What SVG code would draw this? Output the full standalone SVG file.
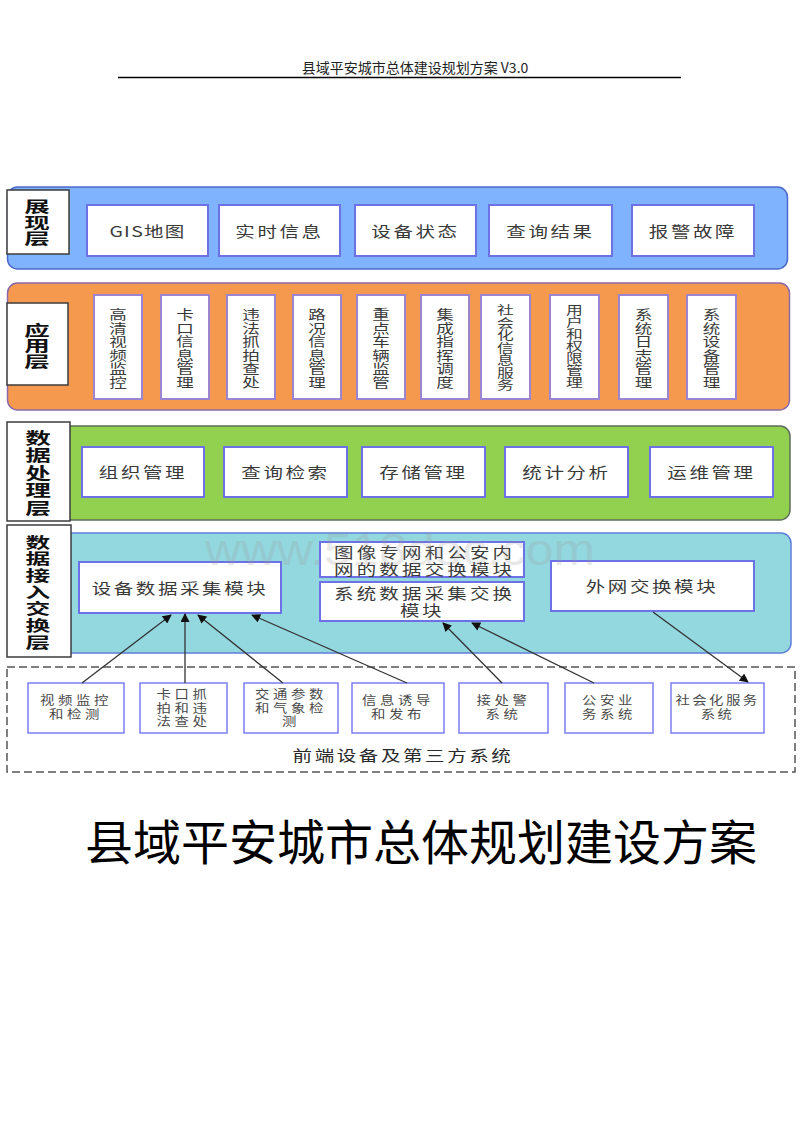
<svg xmlns="http://www.w3.org/2000/svg" width="800" height="1132" viewBox="0 0 800 1132">
<defs>
<style>
text{font-family:"Noto Sans CJK SC","Liberation Sans",sans-serif;}
.hdr{font-size:14px;fill:#222;}
.lbl{font-size:15px;font-weight:bold;fill:#111;}
.it{font-size:15px;fill:#3a3a3a;}
.vt{font-size:13px;fill:#3a3a3a;}
.vt7{font-size:12px;fill:#3a3a3a;}
.sm{font-size:12px;fill:#4a4a4a;}
.lbox{fill:#fff;stroke:#3c3c3c;stroke-width:1.5;}
.box{fill:#fff;stroke:#6e70e6;stroke-width:2;}
.vbox{fill:#fff;stroke:#9b84d2;stroke-width:2;}
.fbox{fill:#fff;stroke:#7c7ff0;stroke-width:1.5;}
.conn{stroke:#333;stroke-width:1.3;fill:none;}
</style>
<marker id="ah" viewBox="0 0 10 10" refX="9" refY="5" markerWidth="10" markerHeight="9" markerUnits="userSpaceOnUse" orient="auto">
<path d="M0,0 L10,5 L0,10 z" fill="#111"/>
</marker>
</defs>
<rect width="800" height="1132" fill="#fff"/>

<g id="header">
<text class="hdr" x="415" y="73" text-anchor="middle">县域平安城市总体建设规划方案 V3.0</text>
<line x1="118" y1="77.5" x2="681" y2="77.5" stroke="#000" stroke-width="1.3"/>
</g>

<!-- Layer 1 -->
<g id="layer-display">
<rect x="7.5" y="187" width="780" height="82" rx="10" fill="#7fb3fe" stroke="#4d68cc" stroke-width="1.5"/>
<rect class="lbox" x="7" y="190" width="62" height="64"/>
<text class="lbl" transform="translate(37,222) scale(1.7,1)" text-anchor="middle" dominant-baseline="central"><tspan x="0" y="-16">展</tspan><tspan x="0" y="0">现</tspan><tspan x="0" y="16">层</tspan></text>
</g>
<g id="n-gis"><rect class="box" x="87" y="205" width="121" height="51"/><text class="it" transform="translate(147.5,231) scale(1.3,1)" text-anchor="middle" dominant-baseline="central" letter-spacing="1">GIS地图</text></g>
<g id="n-realtime"><rect class="box" x="219" y="205" width="121" height="51"/><text class="it" transform="translate(279.5,231) scale(1.3,1)" text-anchor="middle" dominant-baseline="central" letter-spacing="2">实时信息</text></g>
<g id="n-devstate"><rect class="box" x="355" y="205" width="121" height="51"/><text class="it" transform="translate(415.5,231) scale(1.3,1)" text-anchor="middle" dominant-baseline="central" letter-spacing="2">设备状态</text></g>
<g id="n-query"><rect class="box" x="489" y="205" width="123" height="51"/><text class="it" transform="translate(550.5,231) scale(1.3,1)" text-anchor="middle" dominant-baseline="central" letter-spacing="2">查询结果</text></g>
<g id="n-alarm"><rect class="box" x="632" y="205" width="122" height="51"/><text class="it" transform="translate(693,231) scale(1.3,1)" text-anchor="middle" dominant-baseline="central" letter-spacing="2">报警故障</text></g>

<!-- Layer 2 -->
<g id="layer-app">
<rect x="7.5" y="283" width="782" height="127" rx="10" fill="#f5994f" stroke="#8a6aa8" stroke-width="1.5"/>
<rect class="lbox" x="7" y="303" width="61" height="82"/>
<text class="lbl" transform="translate(37,345) scale(1.7,1)" text-anchor="middle" dominant-baseline="central"><tspan x="0" y="-15.5">应</tspan><tspan x="0" y="0">用</tspan><tspan x="0" y="15.5">层</tspan></text>
</g>
<g id="n-hd"><rect class="vbox" x="94" y="295" width="48" height="104"/><text class="vt" transform="translate(118,347) scale(1.35,1)" text-anchor="middle" dominant-baseline="central"><tspan x="0" y="-33.75">高</tspan><tspan x="0" y="-20.25">清</tspan><tspan x="0" y="-6.75">视</tspan><tspan x="0" y="6.75">频</tspan><tspan x="0" y="20.25">监</tspan><tspan x="0" y="33.75">控</tspan></text></g>
<g id="n-kakou"><rect class="vbox" x="161" y="295" width="48" height="104"/><text class="vt" transform="translate(185,347) scale(1.35,1)" text-anchor="middle" dominant-baseline="central"><tspan x="0" y="-33.75">卡</tspan><tspan x="0" y="-20.25">口</tspan><tspan x="0" y="-6.75">信</tspan><tspan x="0" y="6.75">息</tspan><tspan x="0" y="20.25">管</tspan><tspan x="0" y="33.75">理</tspan></text></g>
<g id="n-violation"><rect class="vbox" x="227" y="295" width="48" height="104"/><text class="vt" transform="translate(251,347) scale(1.35,1)" text-anchor="middle" dominant-baseline="central"><tspan x="0" y="-33.75">违</tspan><tspan x="0" y="-20.25">法</tspan><tspan x="0" y="-6.75">抓</tspan><tspan x="0" y="6.75">拍</tspan><tspan x="0" y="20.25">查</tspan><tspan x="0" y="33.75">处</tspan></text></g>
<g id="n-road"><rect class="vbox" x="293" y="295" width="48" height="104"/><text class="vt" transform="translate(317,347) scale(1.35,1)" text-anchor="middle" dominant-baseline="central"><tspan x="0" y="-33.75">路</tspan><tspan x="0" y="-20.25">况</tspan><tspan x="0" y="-6.75">信</tspan><tspan x="0" y="6.75">息</tspan><tspan x="0" y="20.25">管</tspan><tspan x="0" y="33.75">理</tspan></text></g>
<g id="n-vehicle"><rect class="vbox" x="357" y="295" width="48" height="104"/><text class="vt" transform="translate(381,347) scale(1.35,1)" text-anchor="middle" dominant-baseline="central"><tspan x="0" y="-33.75">重</tspan><tspan x="0" y="-20.25">点</tspan><tspan x="0" y="-6.75">车</tspan><tspan x="0" y="6.75">辆</tspan><tspan x="0" y="20.25">监</tspan><tspan x="0" y="33.75">管</tspan></text></g>
<g id="n-command"><rect class="vbox" x="421" y="295" width="48" height="104"/><text class="vt" transform="translate(445,347) scale(1.35,1)" text-anchor="middle" dominant-baseline="central"><tspan x="0" y="-33.75">集</tspan><tspan x="0" y="-20.25">成</tspan><tspan x="0" y="-6.75">指</tspan><tspan x="0" y="6.75">挥</tspan><tspan x="0" y="20.25">调</tspan><tspan x="0" y="33.75">度</tspan></text></g>
<g id="n-social"><rect class="vbox" x="481" y="295" width="49" height="104"/><text class="vt7" transform="translate(505.5,347) scale(1.4,1)" text-anchor="middle" dominant-baseline="central"><tspan x="0" y="-37.5">社</tspan><tspan x="0" y="-25">会</tspan><tspan x="0" y="-12.5">化</tspan><tspan x="0" y="0">信</tspan><tspan x="0" y="12.5">息</tspan><tspan x="0" y="25">服</tspan><tspan x="0" y="37.5">务</tspan></text></g>
<g id="n-user"><rect class="vbox" x="550" y="295" width="49" height="104"/><text class="vt7" transform="translate(574.5,345) scale(1.4,1)" text-anchor="middle" dominant-baseline="central"><tspan x="0" y="-36">用</tspan><tspan x="0" y="-24">户</tspan><tspan x="0" y="-12">和</tspan><tspan x="0" y="0">权</tspan><tspan x="0" y="12">限</tspan><tspan x="0" y="24">管</tspan><tspan x="0" y="36">理</tspan></text></g>
<g id="n-log"><rect class="vbox" x="619" y="295" width="49" height="104"/><text class="vt" transform="translate(643.5,347) scale(1.35,1)" text-anchor="middle" dominant-baseline="central"><tspan x="0" y="-33.75">系</tspan><tspan x="0" y="-20.25">统</tspan><tspan x="0" y="-6.75">日</tspan><tspan x="0" y="6.75">志</tspan><tspan x="0" y="20.25">管</tspan><tspan x="0" y="33.75">理</tspan></text></g>
<g id="n-sysdev"><rect class="vbox" x="687" y="295" width="49" height="104"/><text class="vt" transform="translate(711.5,347) scale(1.35,1)" text-anchor="middle" dominant-baseline="central"><tspan x="0" y="-33.75">系</tspan><tspan x="0" y="-20.25">统</tspan><tspan x="0" y="-6.75">设</tspan><tspan x="0" y="6.75">备</tspan><tspan x="0" y="20.25">管</tspan><tspan x="0" y="33.75">理</tspan></text></g>

<!-- Layer 3 -->
<g id="layer-process">
<rect x="8" y="426" width="782" height="94" rx="10" fill="#92d050" stroke="#5e6e58" stroke-width="1.5"/>
<rect class="lbox" x="7" y="422" width="63" height="99"/>
<text class="lbl" transform="translate(38,471.5) scale(1.6,1)" text-anchor="middle" dominant-baseline="central" style="font-size:16px"><tspan x="0" y="-35">数</tspan><tspan x="0" y="-17.5">据</tspan><tspan x="0" y="0">处</tspan><tspan x="0" y="17.5">理</tspan><tspan x="0" y="35">层</tspan></text>
</g>
<g id="n-org"><rect class="box" x="82" y="447" width="122" height="50"/><text class="it" transform="translate(143,472) scale(1.3,1)" text-anchor="middle" dominant-baseline="central" letter-spacing="2">组织管理</text></g>
<g id="n-search"><rect class="box" x="224" y="447" width="123" height="50"/><text class="it" transform="translate(285.5,472) scale(1.3,1)" text-anchor="middle" dominant-baseline="central" letter-spacing="2">查询检索</text></g>
<g id="n-storage"><rect class="box" x="362" y="447" width="123" height="50"/><text class="it" transform="translate(423.5,472) scale(1.3,1)" text-anchor="middle" dominant-baseline="central" letter-spacing="2">存储管理</text></g>
<g id="n-stats"><rect class="box" x="505" y="447" width="123" height="50"/><text class="it" transform="translate(566.5,472) scale(1.3,1)" text-anchor="middle" dominant-baseline="central" letter-spacing="2">统计分析</text></g>
<g id="n-ops"><rect class="box" x="650" y="447" width="123" height="50"/><text class="it" transform="translate(711.5,472) scale(1.3,1)" text-anchor="middle" dominant-baseline="central" letter-spacing="2">运维管理</text></g>

<!-- Layer 4 -->
<g id="layer-access">
<rect x="8" y="533" width="783" height="120" rx="10" fill="#93d7df" stroke="#5f7fd8" stroke-width="1.5"/>
<rect class="lbox" x="7" y="525" width="64" height="132"/>
<text class="lbl" transform="translate(38,591) scale(1.65,1)" text-anchor="middle" dominant-baseline="central"><tspan x="0" y="-50">数</tspan><tspan x="0" y="-33.3">据</tspan><tspan x="0" y="-16.7">接</tspan><tspan x="0" y="0">入</tspan><tspan x="0" y="16.7">交</tspan><tspan x="0" y="33.3">换</tspan><tspan x="0" y="50">层</tspan></text>
</g>
<g id="n-devcollect"><rect class="box" x="79" y="562" width="202" height="51"/><text class="it" transform="translate(180,588) scale(1.3,1)" text-anchor="middle" dominant-baseline="central" letter-spacing="2">设备数据采集模块</text></g>
<g id="n-imgnet"><rect class="box" x="320" y="542" width="204" height="35"/><text class="it" transform="translate(334,551.5) scale(1.3,1)" dominant-baseline="central" x="0" y="0" textLength="137" lengthAdjust="spacing">图像专网和公安内</text><text class="it" transform="translate(334,568.5) scale(1.3,1)" dominant-baseline="central" x="0" y="0" textLength="137" lengthAdjust="spacing">网的数据交换模块</text></g>
<g id="n-syscollect"><rect class="box" x="320" y="582" width="204" height="39"/><text class="it" transform="translate(334,593) scale(1.3,1)" dominant-baseline="central" x="0" y="0" textLength="137" lengthAdjust="spacing">系统数据采集交换</text><text class="it" transform="translate(422,610) scale(1.3,1)" text-anchor="middle" dominant-baseline="central" letter-spacing="2">模块</text></g>
<g id="n-extnet"><rect class="box" x="551" y="561" width="203" height="50"/><text class="it" transform="translate(652,586) scale(1.3,1)" text-anchor="middle" dominant-baseline="central" letter-spacing="2">外网交换模块</text></g>

<!-- Front-end -->
<g id="frontend">
<rect x="7" y="667" width="788" height="105" fill="none" stroke="#555" stroke-width="1.5" stroke-dasharray="8,4"/>
<text class="it" transform="translate(403,755) scale(1.3,1)" text-anchor="middle" dominant-baseline="central" letter-spacing="2" style="fill:#2a2a2a">前端设备及第三方系统</text>
</g>
<g id="f-video"><rect class="fbox" x="28" y="683" width="96" height="50"/><text class="sm" transform="translate(76,700) scale(1.2,1)" text-anchor="middle" dominant-baseline="central" letter-spacing="3"><tspan x="0" y="0">视频监控</tspan><tspan x="0" y="13.5">和检测</tspan></text></g>
<g id="f-kakou"><rect class="fbox" x="140" y="683" width="87" height="50"/><text class="sm" transform="translate(183.5,694) scale(1.2,1)" text-anchor="middle" dominant-baseline="central" letter-spacing="3"><tspan x="0" y="0">卡口抓</tspan><tspan x="0" y="13.5">拍和违</tspan><tspan x="0" y="27">法查处</tspan></text></g>
<g id="f-traffic"><rect class="fbox" x="244" y="683" width="94" height="50"/><text class="sm" transform="translate(291,694) scale(1.2,1)" text-anchor="middle" dominant-baseline="central" letter-spacing="3"><tspan x="0" y="0">交通参数</tspan><tspan x="0" y="13.5">和气象检</tspan><tspan x="0" y="27">测</tspan></text></g>
<g id="f-info"><rect class="fbox" x="352" y="683" width="92" height="50"/><text class="sm" transform="translate(398,700) scale(1.2,1)" text-anchor="middle" dominant-baseline="central" letter-spacing="3"><tspan x="0" y="0">信息诱导</tspan><tspan x="0" y="13.5">和发布</tspan></text></g>
<g id="f-police"><rect class="fbox" x="459" y="683" width="89" height="50"/><text class="sm" transform="translate(503.5,700) scale(1.2,1)" text-anchor="middle" dominant-baseline="central" letter-spacing="3"><tspan x="0" y="0">接处警</tspan><tspan x="0" y="13.5">系统</tspan></text></g>
<g id="f-public"><rect class="fbox" x="565" y="683" width="88" height="50"/><text class="sm" transform="translate(609,700) scale(1.2,1)" text-anchor="middle" dominant-baseline="central" letter-spacing="3"><tspan x="0" y="0">公安业</tspan><tspan x="0" y="13.5">务系统</tspan></text></g>
<g id="f-social"><rect class="fbox" x="671" y="683" width="93" height="50"/><text class="sm" transform="translate(717.5,700) scale(1.2,1)" text-anchor="middle" dominant-baseline="central" letter-spacing="2"><tspan x="0" y="0">社会化服务</tspan><tspan x="0" y="13.5">系统</tspan></text></g>

<g id="connectors">
<line class="conn" x1="82" y1="683" x2="171" y2="615" marker-end="url(#ah)"/>
<line class="conn" x1="185" y1="683" x2="185" y2="614" marker-end="url(#ah)"/>
<line class="conn" x1="283" y1="683" x2="198" y2="615" marker-end="url(#ah)"/>
<line class="conn" x1="407" y1="683" x2="252" y2="615" marker-end="url(#ah)"/>
<line class="conn" x1="502" y1="683" x2="443" y2="623" marker-end="url(#ah)"/>
<line class="conn" x1="594" y1="683" x2="472" y2="623" marker-end="url(#ah)"/>
<line class="conn" x1="653" y1="612" x2="748" y2="682" marker-end="url(#ah)"/>
</g>

<text x="400" y="565" text-anchor="middle" textLength="390" lengthAdjust="spacingAndGlyphs" style="font-family:'Liberation Sans',sans-serif;font-size:44px;fill:#9a9a9a;opacity:0.22">www.518doc.com</text>

<g id="title">
<text x="421" y="860" text-anchor="middle" style="font-size:48px;fill:#000">县域平安城市总体规划建设方案</text>
</g>
</svg>
